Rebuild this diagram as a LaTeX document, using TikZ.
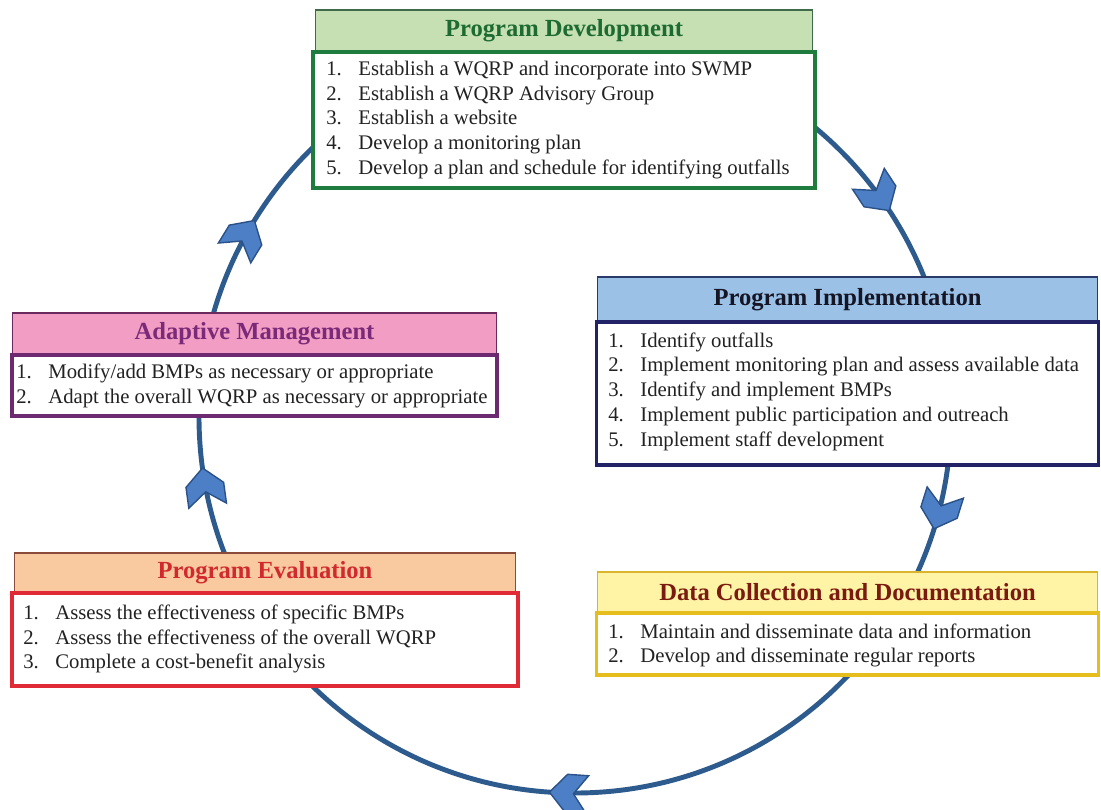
\documentclass[tikz,border=0pt]{standalone}
\usepackage{fontspec}
\setmainfont{Liberation Serif}
\usepackage{tikz}
\usetikzlibrary{positioning}

\definecolor{ring}{HTML}{2D5B8E}
\definecolor{chevfill}{HTML}{4C7FC6}
\definecolor{chevline}{HTML}{2B5288}
\definecolor{txt}{HTML}{222222}
\definecolor{devfill}{HTML}{C6E0B4}
\definecolor{devedge}{HTML}{3F6B4A}
\definecolor{devtxt}{HTML}{1E6B32}
\definecolor{devline}{HTML}{1E7D3E}
\definecolor{impfill}{HTML}{9BC2E6}
\definecolor{impedge}{HTML}{2A3A6A}
\definecolor{imptxt}{HTML}{151525}
\definecolor{impline}{HTML}{222266}
\definecolor{adpfill}{HTML}{F29DC4}
\definecolor{adpedge}{HTML}{6A2A5E}
\definecolor{adptxt}{HTML}{7A2A78}
\definecolor{adpline}{HTML}{6E2A70}
\definecolor{evlfill}{HTML}{F9C9A0}
\definecolor{evledge}{HTML}{8B4B3B}
\definecolor{evltxt}{HTML}{D12A2E}
\definecolor{evlline}{HTML}{E02A35}
\definecolor{datfill}{HTML}{FFF3A6}
\definecolor{datedge}{HTML}{D9B42C}
\definecolor{dattxt}{HTML}{7A1A10}
\definecolor{datline}{HTML}{E5BE1E}

\newcommand{\inum}[1]{\makebox[0.64cm][l]{#1}}

\begin{document}
\begin{tikzpicture}[x=0.02cm,y=0.02cm,
  hdr/.style={draw,line width=0.6pt,outer sep=0pt,inner sep=0pt,font=\fontsize{14}{16}\selectfont\bfseries},
  body/.style={draw,fill=white,line width=1.8pt,outer sep=0pt},
  items/.style={anchor=west,align=left,inner sep=0pt,text=txt,font=\fontsize{11.8}{14.1}\selectfont},
  chev/.pic={\filldraw[fill=chevfill,draw=chevline,line width=0.8pt,line join=miter]
    (0,0) -- (-17,19) -- (-38,19) -- (-24,0) -- (-38,-19) -- (-17,-19) -- cycle;}]

\useasboundingbox (0,0) rectangle (1101,809);

% cycle
\draw[ring,line width=2.8pt] (575,392) circle[radius=376];
\begin{scope}[shift={(575,392)}]
\foreach \a in {148.5,33.3,-17.3,-93.9,-172.2}
  \pic[rotate=\a-90] at (\a:376) {chev};
\end{scope}

% Program Development
\node[hdr,fill=devfill,draw=devedge,text=devtxt,minimum width=9.96cm,minimum height=0.84cm] (devh) at (564,778) {Program Development};
\node[body,draw=devline,minimum width=10.04cm,minimum height=2.72cm,below=0pt of devh] (devb) {};
\node[items] (devt) at (326,689) {\inum{1.}Establish a WQRP and incorporate into SWMP\\
  \inum{2.}Establish a WQRP Advisory Group\\
  \inum{3.}Establish a website\\
  \inum{4.}Develop a monitoring plan\\
  \inum{5.}Develop a plan and schedule for identifying outfalls};

% Program Implementation
\node[hdr,fill=impfill,draw=impedge,text=imptxt,minimum width=10.02cm,minimum height=0.9cm] (imph) at (847.5,509.5) {Program Implementation};
\node[body,draw=impline,minimum width=10.04cm,minimum height=2.86cm,below=0pt of imph] (impb) {};
\node[items] (impt) at (608,417.5) {\inum{1.}Identify outfalls\\
  \inum{2.}Implement monitoring plan and assess available data\\
  \inum{3.}Identify and implement BMPs\\
  \inum{4.}Implement public participation and outreach\\
  \inum{5.}Implement staff development};

% Adaptive Management
\node[hdr,fill=adpfill,draw=adpedge,text=adptxt,minimum width=9.7cm,minimum height=0.84cm] (adph) at (254.5,475) {Adaptive Management};
\node[body,draw=adpline,minimum width=9.7cm,minimum height=1.22cm,below=0pt of adph] (adpb) {};
\node[items] (adpt) at (16,423) {\inum{1.}Modify/add BMPs as necessary or appropriate\\
  \inum{2.}Adapt the overall WQRP as necessary or appropriate};

% Program Evaluation
\node[hdr,fill=evlfill,draw=evledge,text=evltxt,minimum width=10.04cm,minimum height=0.8cm] (evlh) at (265,236) {Program Evaluation};
\node[body,draw=evlline,minimum width=10.12cm,minimum height=1.86cm,below=0pt of evlh] (evlb) {};
\node[items] (evlt) at (23,170) {\inum{1.}Assess the effectiveness of specific BMPs\\
  \inum{2.}Assess the effectiveness of the overall WQRP\\
  \inum{3.}Complete a cost-benefit analysis};

% Data Collection and Documentation
\node[hdr,fill=datfill,draw=datedge,text=dattxt,minimum width=10.02cm,minimum height=0.82cm] (dath) at (847.5,216.5) {Data Collection and Documentation};
\node[body,draw=datline,minimum width=10.04cm,minimum height=1.24cm,below=0pt of dath] (datb) {};
\node[items] (datt) at (608,163.5) {\inum{1.}Maintain and disseminate data and information\\
  \inum{2.}Develop and disseminate regular reports};

\end{tikzpicture}
\end{document}
